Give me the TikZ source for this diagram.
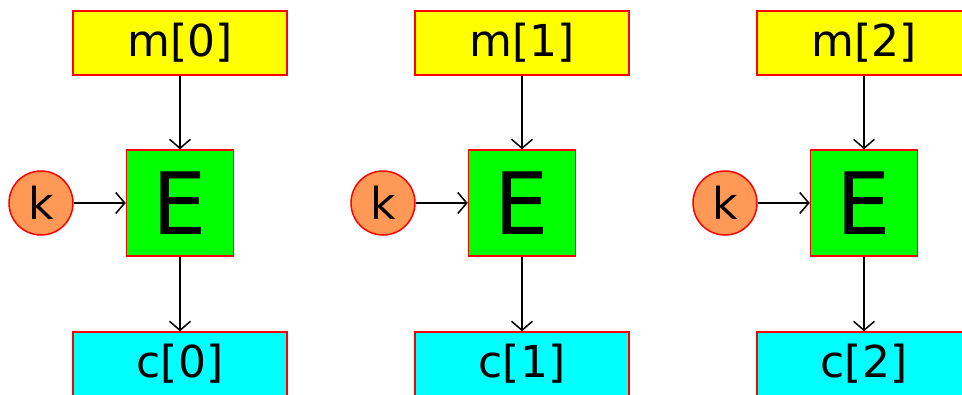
\documentclass[tikz,border=0pt]{standalone}
\usepackage{fontspec}
\setmainfont{DejaVu Sans}
\definecolor{msgyellow}{RGB}{255,255,0}
\definecolor{encgreen}{RGB}{0,255,0}
\definecolor{keyorange}{RGB}{255,153,85}
\definecolor{ctcyan}{RGB}{0,255,255}
\definecolor{edgered}{RGB}{255,0,0}
\usetikzlibrary{arrows.meta}

\begin{document}
\begin{tikzpicture}[x=1pt,y=-1pt,
    blockbox/.style={draw=edgered,line width=1.5pt,inner sep=0pt,
      minimum width=214pt,minimum height=64pt,font=\fontsize{44}{44}\selectfont},
    encbox/.style={draw=edgered,fill=encgreen,line width=1.5pt,inner sep=0pt,
      minimum width=107pt,minimum height=106pt,font=\fontsize{86}{86}\selectfont},
    keynode/.style={circle,draw=edgered,fill=keyorange,line width=1.5pt,inner sep=0pt,
      minimum size=64pt,font=\fontsize{44}{44}\selectfont},
    flow/.style={line width=1.5pt,-{Straight Barb[length=9pt,width=21pt]}}]
  \clip (0,0) rectangle (962,394);
  \foreach \i in {0,1,2}{
    \pgfmathsetmacro\cx{180+342*\i}
    \node[blockbox,fill=msgyellow] (m\i) at (\cx,43) {m[\i]};
    \node[encbox] (E\i) at (\cx,203) {E};
    \node[keynode] (k\i) at (\cx-139,203) {k};
    \node[blockbox,fill=ctcyan] (c\i) at (\cx,364) {c[\i]};
    \draw[flow] (m\i) -- (E\i);
    \draw[flow] (k\i) -- (E\i);
    \draw[flow] (E\i) -- (c\i);
  }
\end{tikzpicture}
\end{document}
